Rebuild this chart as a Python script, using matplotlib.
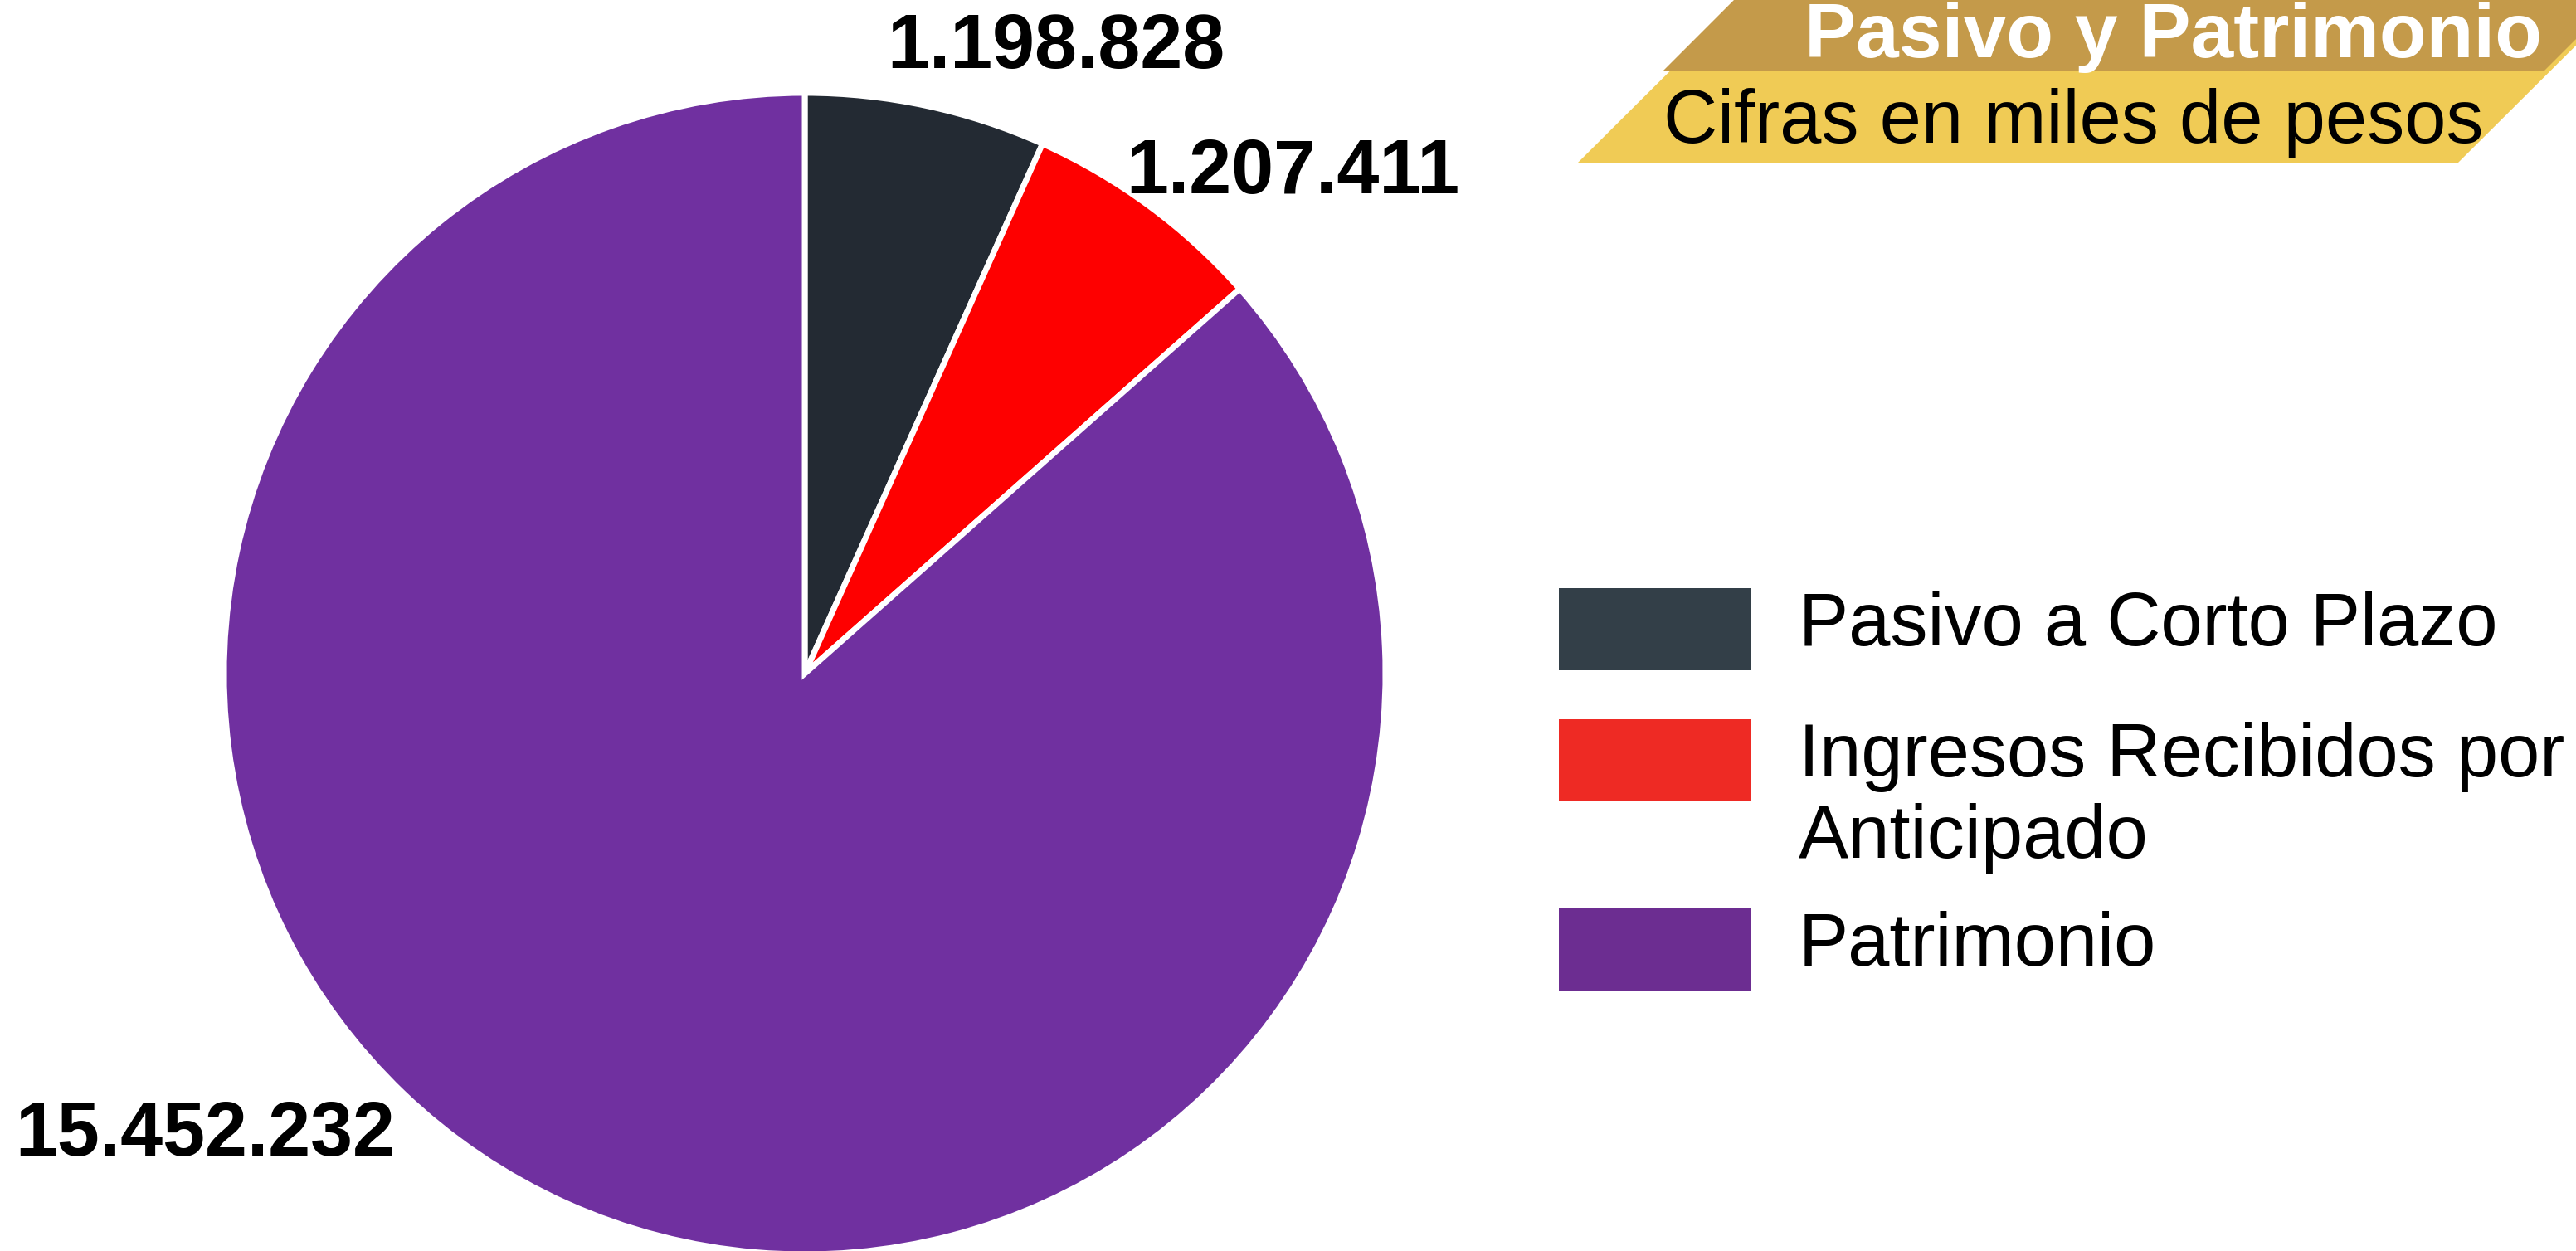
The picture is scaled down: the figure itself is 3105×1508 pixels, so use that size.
import matplotlib
matplotlib.use("Agg")
import matplotlib.pyplot as plt
from matplotlib.patches import Polygon, Rectangle

plt.rcParams['font.family'] = ['Liberation Sans', 'DejaVu Sans']

# data
categories = ['Pasivo a Corto Plazo', 'Ingresos Recibidos por\nAnticipado', 'Patrimonio']
values = [1198828, 1207411, 15452232]
value_labels = ['1.198.828', '1.207.411', '15.452.232']
slice_colors = ['#232a33', '#fe0000', '#7030a0']
legend_colors = ['#333f48', '#ee2a24', '#6c2d91']
title = 'Pasivo y Patrimonio'
subtitle = 'Cifras en miles de pesos'

W, H = 3105, 1508
fig = plt.figure(figsize=(W / 100, H / 100), dpi=100)

# pie: centre (970, 812) px, radius 700 px
cx, cy, r = 970, 812, 700
ax = fig.add_axes([(cx - r) / W, (H - cy - r) / H, 2 * r / W, 2 * r / H])
wedges, _ = ax.pie(values, colors=slice_colors, startangle=90, counterclock=False,
                   wedgeprops=dict(edgecolor='white', linewidth=5))
for w in wedges:
    w.set_clip_on(False)
ax.set_xlim(-1, 1)
ax.set_ylim(-1, 1)
ax.axis('off')

# value labels (axes data coords, radius = 1)
label_pos = [(0.433, 1.077), (0.841, 0.862), (-1.033, -0.796)]
for txt, (x, y) in zip(value_labels, label_pos):
    ax.text(x, y, txt, ha='center', va='center', fontsize=66, fontweight='bold',
            color='black', clip_on=False)

# overlay in pixel coords for banner + legend
ov = fig.add_axes([0, 0, 1, 1], zorder=5)
ov.set_xlim(0, W)
ov.set_ylim(H, 0)
ov.axis('off')
ov.patch.set_alpha(0)

# banner
ov.add_patch(Polygon([(1901, 197), (2962, 197), (3160, 0), (2099, 0)],
                     closed=True, facecolor='#f0cb55', edgecolor='none'))
ov.add_patch(Polygon([(2005, 85), (3067, 85), (3152, 0), (2090, 0)],
                     closed=True, facecolor='#c49a4a', edgecolor='none'))
ov.text(3064, 69, title, ha='right', va='baseline', fontsize=67,
        fontweight='bold', color='white')
ov.text(2005, 172, subtitle, ha='left', va='baseline', fontsize=65, color='black')

# legend
patch_tops = [709, 867, 1095]
for lab, col, pt in zip(categories, legend_colors, patch_tops):
    ov.add_patch(Rectangle((1879, pt), 232, 99, facecolor=col, edgecolor='none'))
    ov.text(2168, pt + 3, lab, ha='left', va='top', fontsize=65, color='black',
            linespacing=1.2)

fig.savefig('out.png', dpi=100, facecolor='white')
